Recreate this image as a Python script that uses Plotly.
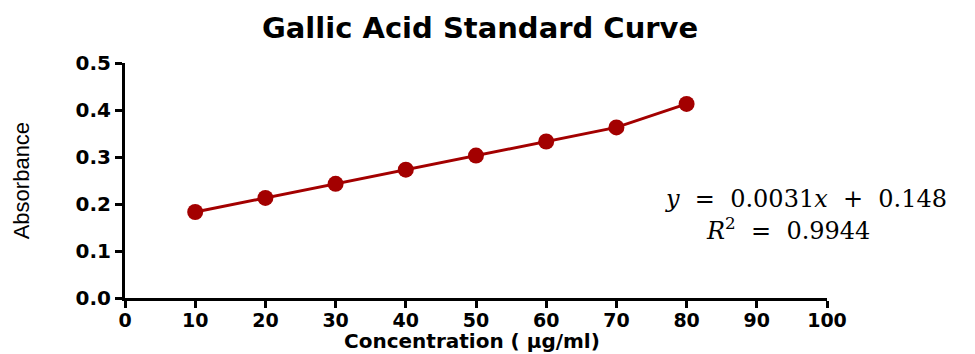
import plotly.graph_objects as go

concentration = [10, 20, 30, 40, 50, 60, 70, 80]
absorbance = [0.183, 0.213, 0.243, 0.273, 0.303, 0.333, 0.363, 0.413]
x_ticks = [0, 10, 20, 30, 40, 50, 60, 70, 80, 90, 100]
y_ticks = [0.0, 0.1, 0.2, 0.3, 0.4, 0.5]
y_tick_labels = ["0.0", "0.1", "0.2", "0.3", "0.4", "0.5"]

red = "#a30000"
bold_font = "DejaVu Sans, Liberation Sans, Arial"

fig = go.Figure()
fig.add_trace(go.Scatter(
    x=concentration, y=absorbance, mode="lines+markers",
    line=dict(color=red, width=3),
    marker=dict(color=red, size=16),
    showlegend=False, cliponaxis=False,
))

axis_common = dict(
    showgrid=False, zeroline=False, showline=True, linecolor="black", linewidth=3,
    ticks="outside", ticklen=7, tickwidth=3, tickcolor="black",
)

# page body adds an 8px offset; margins compensate so the plot lands where the reference has it
fig.update_layout(
    width=975, height=354,
    margin=dict(l=117, r=156, t=55, b=64),
    paper_bgcolor="white", plot_bgcolor="white",
    xaxis=dict(range=[0, 100], tickvals=x_ticks, ticklabelstandoff=-4,
               tickfont=dict(family=bold_font, size=19, color="black", weight="bold"),
               **axis_common),
    yaxis=dict(range=[0, 0.5], tickvals=y_ticks, ticktext=y_tick_labels,
               tickfont=dict(family=bold_font, size=20, color="black", weight="bold"),
               **axis_common),
)

fig.add_annotation(
    text="Gallic Acid Standard Curve", xref="paper", yref="paper", x=0.505, y=1.149,
    xanchor="center", yanchor="middle", showarrow=False,
    font=dict(family=bold_font, size=29, color="black", weight="bold"),
)
fig.add_annotation(
    text="Concentration ( µg/ml)", xref="paper", yref="paper", x=0.495, y=-0.183,
    xanchor="center", yanchor="middle", showarrow=False,
    font=dict(family=bold_font, size=20, color="black", weight="bold"),
)
fig.add_annotation(
    text="Absorbance", xref="paper", yref="paper", x=-0.147, y=0.5,
    xanchor="center", yanchor="middle", textangle=-90, showarrow=False,
    font=dict(family="Liberation Sans Narrow, Arial Narrow, Liberation Sans", size=22, color="black"),
)
fig.add_annotation(
    text="<i>y</i>  =  0.0031<i>x</i>  +  0.148", xref="paper", yref="paper", x=0.97, y=0.42,
    xanchor="center", yanchor="middle", showarrow=False,
    font=dict(family="DejaVu Serif, Liberation Serif", size=24, color="black"),
)
fig.add_annotation(
    text="<i>R</i><sup>2</sup>  =  0.9944", xref="paper", yref="paper", x=0.945, y=0.295,
    xanchor="center", yanchor="middle", showarrow=False,
    font=dict(family="DejaVu Serif, Liberation Serif", size=24, color="black"),
)

fig.write_html("out.html")
